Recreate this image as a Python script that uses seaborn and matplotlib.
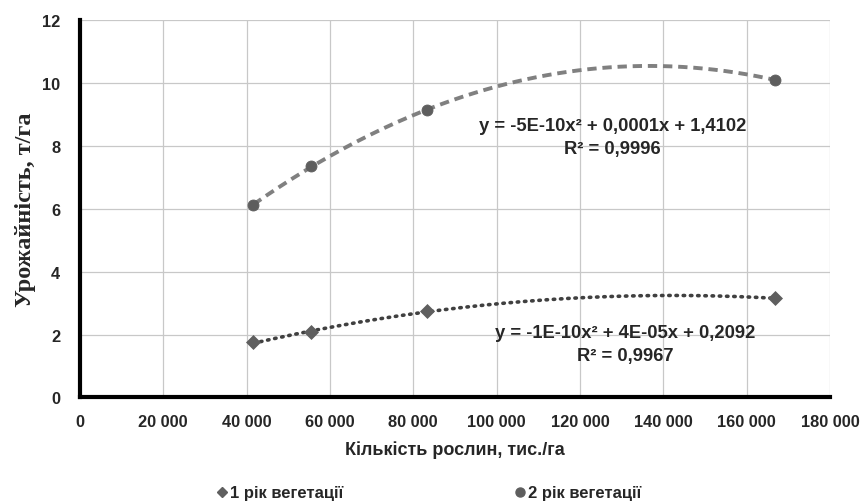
import numpy as np
import pandas as pd
import matplotlib
matplotlib.use("Agg")
import matplotlib.pyplot as plt
import seaborn as sns
from matplotlib.lines import Line2D

# ---- data ----
plants = [41667, 55556, 83333, 166667]
year1 = [1.75, 2.07, 2.74, 3.15]
year2 = [6.11, 7.36, 9.13, 10.09]
series_names = ["1 рік вегетації", "2 рік вегетації"]
eq1 = "y = -1E-10x² + 4E-05x + 0,2092\nR² = 0,9967"
eq2 = "y = -5E-10x² + 0,0001x + 1,4102\nR² = 0,9996"
x_ticks = [0, 20000, 40000, 60000, 80000, 100000, 120000, 140000, 160000, 180000]
y_ticks = [0, 2, 4, 6, 8, 10, 12]
x_label = "Кількість рослин, тис./га"
y_label = "Урожайність, т/га"

sns.set_theme(style="white")
plt.rcParams['font.family'] = ['Liberation Sans', 'DejaVu Sans']

fig = plt.figure(figsize=(8.63, 5.02), dpi=100)
ax = fig.add_axes([0.0924, 0.2062, 0.8696, 0.7526])

df = pd.DataFrame({"x": plants * 2,
                   "y": year1 + year2,
                   "s": [series_names[0]] * 4 + [series_names[1]] * 4})

# trendlines (2nd-order polynomial fits)
xs = np.linspace(min(plants), max(plants), 200)
c1 = np.polyfit(plants, year1, 2)
c2 = np.polyfit(plants, year2, 2)
sns.lineplot(x=xs, y=np.polyval(c1, xs), ax=ax, color="#404040", lw=2.6,
             linestyle=(0, (0.4, 1.6)), zorder=3)
ax.lines[-1].set_dash_capstyle("round")
sns.lineplot(x=xs, y=np.polyval(c2, xs), ax=ax, color="#808080", lw=2.8,
             linestyle=(0, (2.4, 1.5)), zorder=3)

sns.scatterplot(data=df[df.s == series_names[0]], x="x", y="y", ax=ax,
                marker="D", s=50, color="#5f5f5f", edgecolor="#5f5f5f", zorder=4, legend=False)
sns.scatterplot(data=df[df.s == series_names[1]], x="x", y="y", ax=ax,
                marker="o", s=62, color="#5e5e5e", edgecolor="#5e5e5e", zorder=4, legend=False)

ax.set_xlim(0, 180000)
ax.set_ylim(0, 12)
ax.set_xticks(x_ticks)
ax.set_yticks(y_ticks)
ax.set_xticklabels([f"{v:,}".replace(",", " ") for v in x_ticks], fontsize=11.8, fontweight="bold")
ax.set_yticklabels([str(v) for v in y_ticks], fontsize=11.8, fontweight="bold")
ax.tick_params(axis="x", length=0, pad=12)
ax.tick_params(axis="y", length=0, pad=14)

ax.grid(True, color="#c8c8c8", lw=0.9)
for side in ["top", "right"]:
    ax.spines[side].set_visible(False)
ax.spines["left"].set_color("black")
ax.spines["left"].set_linewidth(3)
ax.spines["bottom"].set_color("black")
ax.spines["bottom"].set_linewidth(3)

ax.set_xlabel(x_label, fontsize=13, fontweight="bold", labelpad=8)
ax.set_ylabel(y_label, fontsize=17.5, fontweight="bold", family=["Liberation Serif"], labelpad=4)

ax.text(0.710, 0.6895, eq2, transform=ax.transAxes, ha="center", va="center",
        fontsize=13.2, fontweight="bold", linespacing=1.45)
ax.text(0.727, 0.1416, eq1, transform=ax.transAxes, ha="center", va="center",
        fontsize=13.2, fontweight="bold", linespacing=1.45)

handles = [Line2D([], [], marker="D", color="#5f5f5f", ls="none", markersize=5),
           Line2D([], [], marker="o", color="#5e5e5e", ls="none", markersize=6.5)]
leg = fig.legend(handles, series_names, loc="center", bbox_to_anchor=(0.4965, 0.016),
                 ncol=2, frameon=False, columnspacing=10.2, handletextpad=0.1,
                 handlelength=0.8, prop={"weight": "bold", "size": 12})

fig.savefig("out.png", dpi=100)
